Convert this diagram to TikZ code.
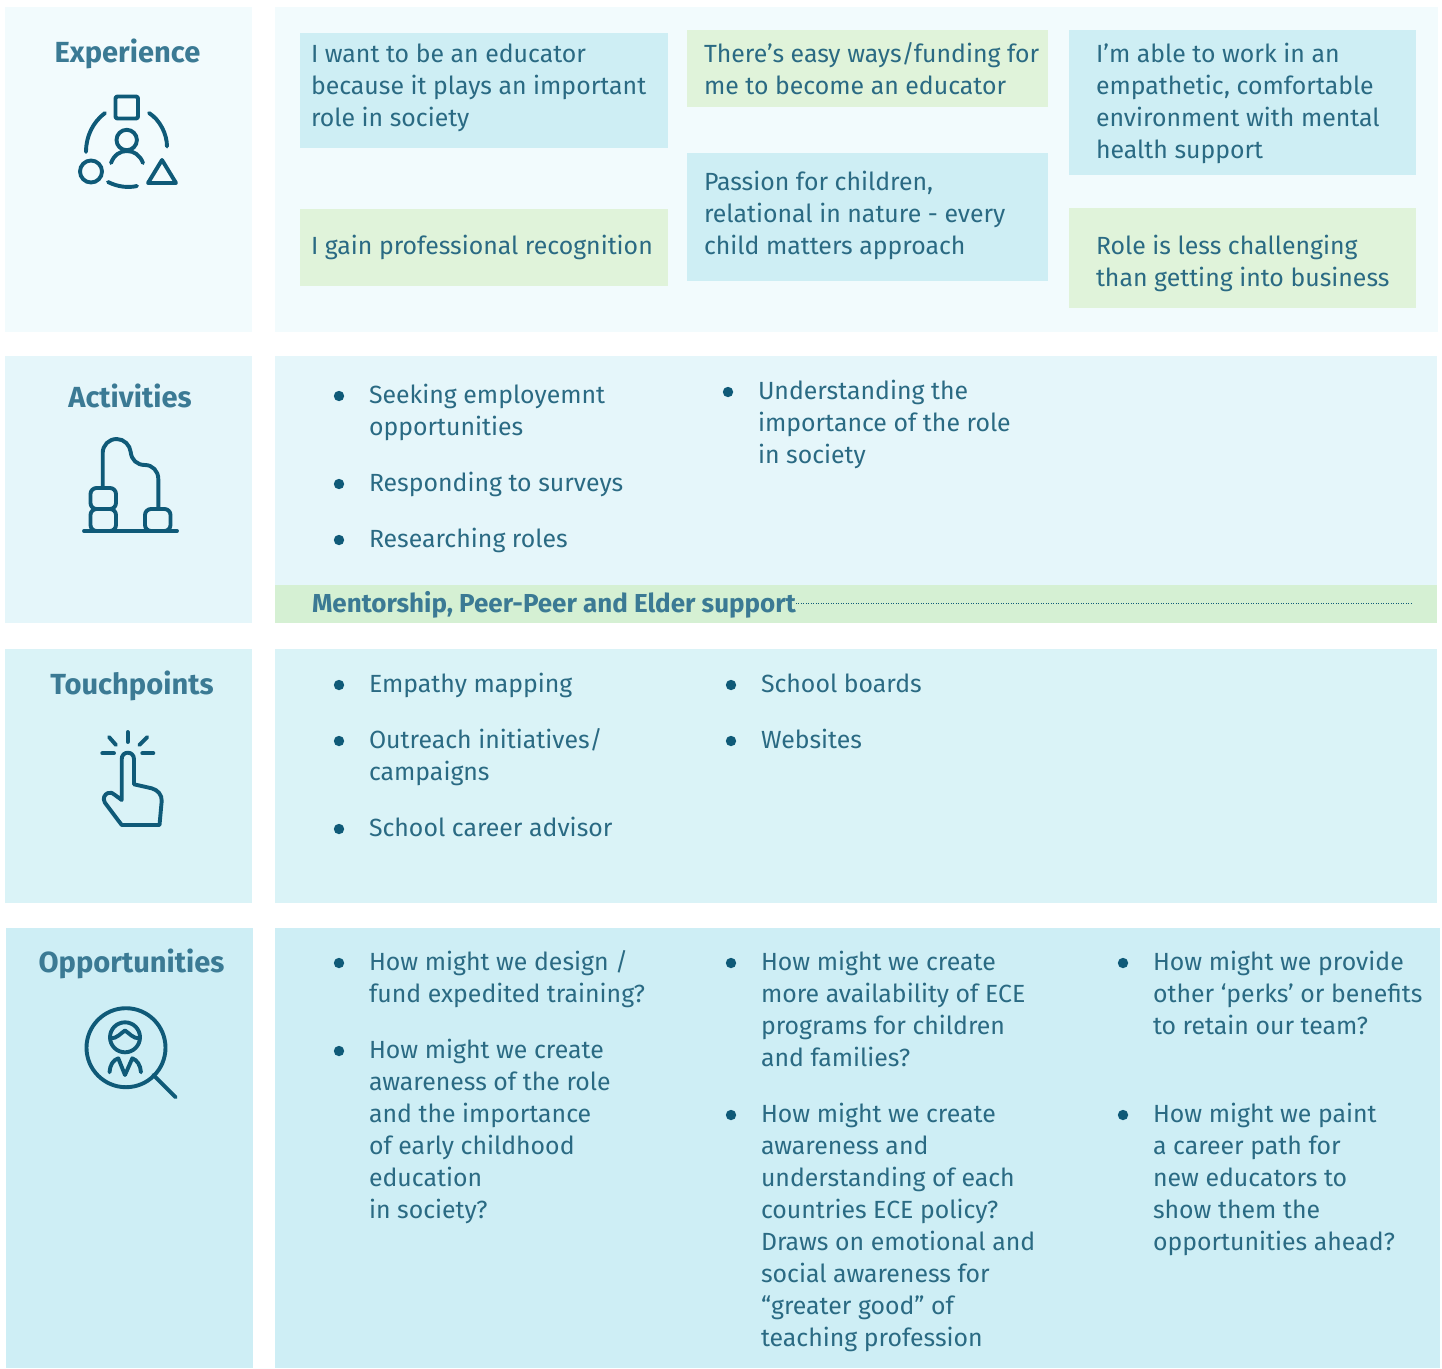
\documentclass[tikz,border=0pt]{standalone}
\usepackage{fontspec}
\setmainfont{Fira Sans}
\definecolor{ink}{HTML}{2A6A83}
\definecolor{headc}{HTML}{3B7A94}
\definecolor{icon}{HTML}{0F5A78}
\definecolor{pA}{HTML}{F2FBFD}
\definecolor{pB}{HTML}{E5F6FA}
\definecolor{pC}{HTML}{DAF3F7}
\definecolor{pD}{HTML}{CEEEF5}
\definecolor{st}{HTML}{CEEEF4}
\definecolor{gr}{HTML}{E0F3DA}
\definecolor{gb}{HTML}{D5F0D3}
\tikzset{x=1pt,y=-1pt,
 txt/.style={anchor=base west,inner sep=0pt,outer sep=0pt,font=\fontsize{24.85pt}{30pt}\selectfont,text=ink},
 head/.style={anchor=base,inner sep=0pt,font=\fontsize{29.1pt}{32pt}\selectfont\bfseries,text=headc},
 ic/.style={draw=icon,line width=3.9pt,line cap=round,line join=round,fill=none}}
\newcommand{\tl}[3]{\node[txt] at (#1,#2) {#3};}
\newcommand{\bul}[2]{\fill[icon] (#1,#2) circle (5.2pt);}
\begin{document}
\begin{tikzpicture}
\useasboundingbox (0,0) rectangle (1442,1368);
\fill[pA] (5,7) rectangle (252,332); \fill[pA] (275,7) rectangle (1438,332);
\fill[pB] (5,356) rectangle (252,623); \fill[pB] (275,356) rectangle (1437,623);
\fill[pC] (5,649) rectangle (252,903); \fill[pC] (275,649) rectangle (1437,903);
\fill[pD] (6,928) rectangle (253,1368); \fill[pD] (275,928) rectangle (1440,1368);
\fill[st] (300,33) rectangle (668,148);
\fill[gr] (300,209) rectangle (668,286);
\fill[gr] (687,30) rectangle (1048,107);
\fill[st] (687,153) rectangle (1048,281);
\fill[st] (1069,30) rectangle (1416,175);
\fill[gr] (1069,208) rectangle (1416,308);
\fill[gb] (275,585) rectangle (1437,623);
\node[head] (h1) at (127.5,62.5) {Experience};
\node[head] (h2) at (130,407.5) {Activities};
\node[head] (h3) at (132,694.5) {Touchpoints};
\node[head] (h4) at (131.5,972.5) {Opportunities};
% Experience icon
\draw[ic,rounded corners=1.5pt] (115.5,96.5) rectangle (138,118.5);
\draw[ic] (105,113) .. controls (93,122) and (86,136) .. (86,152);
\draw[ic] (149,113) .. controls (160,120) and (167,134) .. (167,146.5);
\draw[ic] (108,182) .. controls (118,187) and (128,188) .. (137,186);
\draw[ic] (91,171.5) circle (11pt);
\draw[ic] (162,160) -- (148,183) -- (176,183) -- cycle;
\draw[ic] (126.7,140) circle (10.2pt);
\draw[ic] (111,163) .. controls (114,155) and (120,151) .. (126.7,151) .. controls (134,151) and (140,155) .. (143,163);
% Activities icon
\draw[ic] (102.7,488) -- (102.7,453) .. controls (102.7,445) and (109,439) .. (116.7,439) .. controls (124,439) and (130,445) .. (130.7,452) .. controls (131.5,460) and (137,465) .. (145,465) .. controls (152.5,465) and (158.3,471) .. (158.3,479) -- (158.3,509);
\draw[ic,rounded corners=6pt] (90.5,488) rectangle (116,509);
\draw[ic,rounded corners=6pt] (90.5,509) rectangle (116,531);
\draw[ic,rounded corners=6pt] (145,509) rectangle (170.5,531);
\draw[ic] (84,531) -- (177,531);
% Touchpoints icon
\draw[ic] (127.7,732) -- (127.7,742);
\draw[ic] (109,737) -- (116,745);
\draw[ic] (147.3,737) -- (139.3,745);
\draw[ic] (102.3,753.3) -- (114,753.3);
\draw[ic] (142.3,753.3) -- (153.3,753.3);
\draw[ic] (121.7,800) -- (121.7,759.3) .. controls (121.7,755) and (124.5,752.7) .. (127.8,752.7) .. controls (131.2,752.7) and (134,755) .. (134,759.3) -- (134,784.3) -- (151.7,788.3) .. controls (158,790) and (162,795) .. (161.7,801) -- (159.5,825) -- (121.7,825) -- (104.8,802.5) .. controls (102.5,798) and (104.5,794.5) .. (108,793) .. controls (110.5,792) and (113,793) .. (115,795) -- cycle;
% Opportunities icon
\draw[ic] (126,1047.7) circle (39.5pt);
\draw[ic] (153.3,1075) -- (175.7,1097.3);
\draw[ic] (125,1037.3) circle (15pt);
\draw[ic] (110.5,1038.5) .. controls (117,1038.5) and (121,1033) .. (125,1030.5) .. controls (129,1033) and (133,1038.5) .. (139.5,1038.5);
\draw[ic] (109.5,1072.3) .. controls (110,1065) and (113,1060) .. (118.3,1058.3) -- (125,1075) -- (132.3,1058.3) .. controls (137,1060) and (140.5,1065) .. (141,1072.3);
% Text
\tl{311}{62.5}{I want to be an educator}\tl{311}{94.5}{because it plays an important}\tl{311}{126.5}{role in society}
\tl{311}{254.5}{I gain professional recognition}
\tl{704}{62.5}{There’s easy ways/funding for}\tl{704}{94.5}{me to become an educator}
\tl{704}{190.5}{Passion for children,}\tl{704}{222.5}{relational in nature - every}\tl{704}{254.5}{child matters approach}
\tl{1096}{62.5}{I’m able to work in an}\tl{1096}{94.5}{empathetic, comfortable}\tl{1096}{126.5}{environment with mental}\tl{1096}{158.5}{health support}
\tl{1096}{254.5}{Role is less challenging}\tl{1096}{286.5}{than getting into business}
\bul{339}{396}\bul{339}{484}\bul{339}{540}\bul{728}{392}
\tl{369}{403.5}{Seeking employemnt}\tl{369}{435.5}{opportunities}\tl{369}{491.5}{Responding to surveys}\tl{369}{547.5}{Researching roles}
\tl{758}{399.5}{Understanding the}\tl{758}{431.5}{importance of the role}\tl{758}{463.5}{in society}
\node[txt,font=\fontsize{26pt}{30pt}\selectfont\bfseries,text=headc] (m) at (312,612) {Mentorship, Peer-Peer and Elder support};
\coordinate (me) at (1412,603);
\draw[icon,line width=0.5pt,dotted] (m.base east |- me) -- (me);
\bul{339}{685}\bul{339}{741}\bul{339}{829}\bul{731}{685}\bul{731}{741}
\tl{369}{692.5}{Empathy mapping}\tl{369}{748.5}{Outreach initiatives/}\tl{369}{780.5}{campaigns}\tl{369}{836.5}{School career advisor}
\tl{761}{692.5}{School boards}\tl{761}{748.5}{Websites}
\bul{339}{963}\bul{339}{1051}\bul{731}{963}\bul{731}{1115}\bul{1123}{963}\bul{1123}{1115}
\tl{369}{970.5}{How might we design /}\tl{369}{1002.5}{fund expedited training?}
\tl{369}{1058.5}{How might we create}\tl{369}{1090.5}{awareness of the role}\tl{369}{1122.5}{and the importance}\tl{369}{1154.5}{of early childhood}\tl{369}{1186.5}{education}\tl{369}{1218.5}{in society?}
\tl{761}{970.5}{How might we create}\tl{761}{1002.5}{more availability of ECE}\tl{761}{1034.5}{programs for children}\tl{761}{1066.5}{and families?}
\tl{761}{1122.5}{How might we create}\tl{761}{1154.5}{awareness and}\tl{761}{1186.5}{understanding of each}\tl{761}{1218.5}{countries ECE policy?}\tl{761}{1250.5}{Draws on emotional and}\tl{761}{1282.5}{social awareness for}\tl{761}{1314.5}{“greater good” of}\tl{761}{1346.5}{teaching profession}
\tl{1153}{970.5}{How might we provide}\tl{1153}{1002.5}{other ‘perks’ or benefits}\tl{1153}{1034.5}{to retain our team?}
\tl{1153}{1122.5}{How might we paint}\tl{1153}{1154.5}{a career path for}\tl{1153}{1186.5}{new educators to}\tl{1153}{1218.5}{show them the}\tl{1153}{1250.5}{opportunities ahead?}
\end{tikzpicture}
\end{document}
